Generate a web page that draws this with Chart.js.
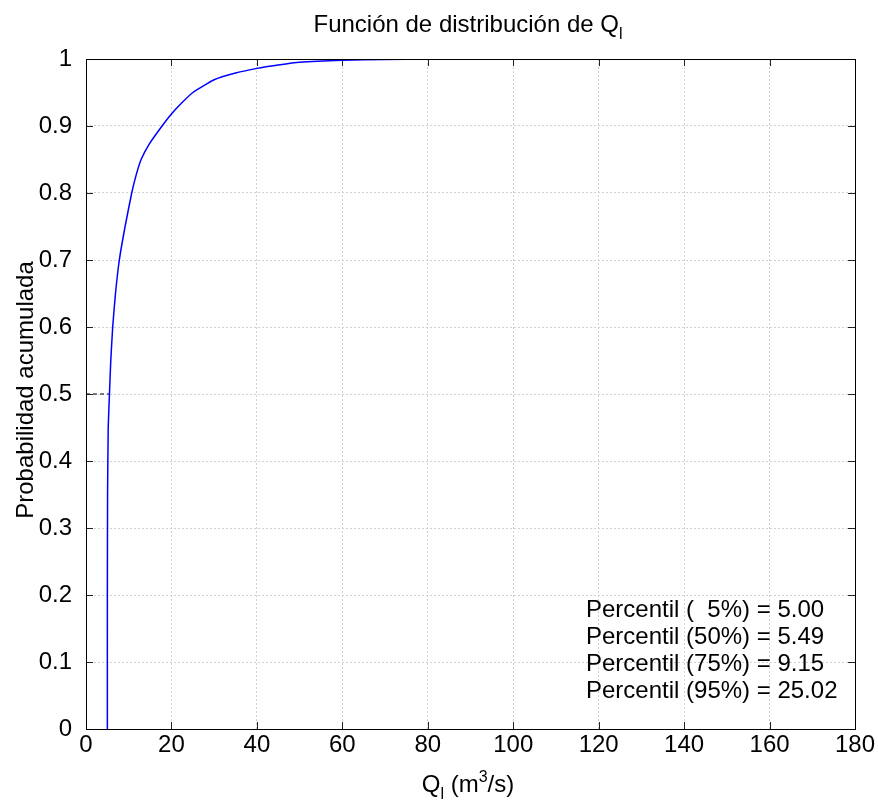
<!DOCTYPE html>
<html>
<head>
<meta charset="utf-8">
<script src="https://cdn.jsdelivr.net/npm/chart.js@4/dist/chart.umd.min.js"></script>
<style>
  body { margin: 0; background: #fff; }
  #wrap { width: 878px; height: 805px; }
</style>
</head>
<body>
<div id="wrap"><canvas id="myChart" width="878" height="805"></canvas></div>
<script>
// caudal Q_l (m3/s) y probabilidad acumulada
var caudal = [5.0, 5.0, 5.05, 5.2, 5.49, 5.8, 6.25, 6.9, 7.8, 9.15, 10.7, 11.7, 12.9, 14.8, 17.8, 20, 22.5, 25.02, 30, 35, 40, 45, 50, 60, 70, 80, 102];
var probAcum = [0.0, 0.2, 0.35, 0.45, 0.5, 0.55, 0.6, 0.65, 0.7, 0.75, 0.8, 0.826, 0.85, 0.873, 0.9, 0.918, 0.935, 0.95, 0.969, 0.979, 0.986, 0.991, 0.995, 0.998, 0.9993, 0.9997, 1.0];

var percentilLabels = ['Percentil (  5%) = 5.00', 'Percentil (50%) = 5.49', 'Percentil (75%) = 9.15', 'Percentil (95%) = 25.02'];
var medianaX = [0, 5.49];
var medianaY = [0.5, 0.5];

var xTicks = [0, 20, 40, 60, 80, 100, 120, 140, 160, 180];
var yTicks = [0, 0.1, 0.2, 0.3, 0.4, 0.5, 0.6, 0.7, 0.8, 0.9, 1];

var FONT = '"Liberation Sans", Arial, sans-serif';

function puntos(xs, ys) {
    var p = [];
    for (var i = 0; i < xs.length; i++) {
        p.push({ x: xs[i], y: ys[i] });
    }
    return p;
}

// escribe trozos [texto, tamaño, desplazamiento vertical] seguidos
function trozos(ctx, partes, x, y, centrado) {
    var total = 0;
    partes.forEach(function(p) {
        ctx.font = p[1] + 'px ' + FONT;
        total += ctx.measureText(p[0]).width;
    });
    var cx = centrado ? x - total / 2 : x;
    ctx.textAlign = 'left';
    partes.forEach(function(p) {
        ctx.font = p[1] + 'px ' + FONT;
        ctx.fillText(p[0], cx, y + p[2]);
        cx += ctx.measureText(p[0]).width;
    });
}

// titulos con subindices + ticks interiores en los 4 lados + cuadro de percentiles
var extras = {
    id: 'extras',
    afterDraw: function(chart) {
        var ctx = chart.ctx;
        var a = chart.chartArea;
        var sx = chart.scales.x, sy = chart.scales.y;
        ctx.save();

        // marcas interiores
        ctx.strokeStyle = '#222';
        ctx.lineWidth = 1;
        ctx.beginPath();
        xTicks.forEach(function(v) {
            var px = Math.round(sx.getPixelForValue(v)) + 0.5;
            ctx.moveTo(px, a.bottom); ctx.lineTo(px, a.bottom - 7);
            ctx.moveTo(px, a.top); ctx.lineTo(px, a.top + 7);
        });
        yTicks.forEach(function(v) {
            var py = Math.round(sy.getPixelForValue(v)) + 0.5;
            ctx.moveTo(a.left, py); ctx.lineTo(a.left + 7, py);
            ctx.moveTo(a.right, py); ctx.lineTo(a.right - 7, py);
        });
        ctx.stroke();

        // marco
        ctx.strokeStyle = '#000';
        ctx.strokeRect(Math.round(a.left) + 0.5, Math.round(a.top) + 0.5,
            Math.round(a.right - a.left), Math.round(a.bottom - a.top));

        ctx.fillStyle = '#000';
        ctx.textBaseline = 'alphabetic';

        // titulo
        trozos(ctx, [['Función de distribución de Q', 24, 0], ['l', 16, 7]], 468, 32, true);

        // etiqueta eje x
        trozos(ctx, [['Q', 24, 0], ['l', 16, 7], [' (m', 24, 0], ['3', 16, -10], ['/s)', 24, 0]], 468, 792, true);

        // etiqueta eje y
        ctx.save();
        ctx.translate(33, 390);
        ctx.rotate(-Math.PI / 2);
        ctx.textAlign = 'center';
        ctx.font = '24px ' + FONT;
        ctx.fillText('Probabilidad acumulada', 0, 0);
        ctx.restore();

        // cuadro de percentiles
        ctx.font = '24px ' + FONT;
        ctx.textAlign = 'left';
        for (var i = 0; i < percentilLabels.length; i++) {
            ctx.fillText(percentilLabels[i], 586, 617 + i * 27);
        }
        ctx.restore();
    }
};

const data = {
    datasets: [{
        label: 'F(Q)',
        data: puntos(caudal, probAcum),
        showLine: true,
        borderColor: 'rgb(0, 0, 255)',
        borderWidth: 1.5,
        pointRadius: 0,
        tension: 0.15,
        order: 1
    }, {
        label: 'mediana',
        data: puntos(medianaX, medianaY),
        showLine: true,
        borderColor: '#000',
        borderWidth: 1,
        borderDash: [4, 3],
        pointRadius: 0,
        order: 2
    }]
};

const config = {
    type: 'scatter',
    data: data,
    options: {
        responsive: false,
        animation: false,
        layout: { padding: { top: 59, right: 23, left: 0, bottom: 0 } },
        plugins: {
            legend: { display: false },
            title: { display: false },
            tooltip: { enabled: false }
        },
        scales: {
            x: {
                type: 'linear',
                min: 0, max: 180,
                afterFit: function(s) { s.height = 76; },
                afterBuildTicks: function(s) { s.ticks = xTicks.map(function(v) { return { value: v }; }); },
                ticks: { color: '#000', padding: 2, maxRotation: 0, font: { family: FONT, size: 24 } },
                grid: { color: '#d0d0d0', drawTicks: false, lineWidth: 1 },
                border: { display: false, dash: [2, 2] }
            },
            y: {
                type: 'linear',
                min: 0, max: 1,
                afterFit: function(s) { s.width = 86; },
                afterBuildTicks: function(s) { s.ticks = yTicks.map(function(v) { return { value: v }; }); },
                ticks: {
                    color: '#000', padding: 14, font: { family: FONT, size: 24 },
                    callback: function(v) { return String(Math.round(v * 10) / 10); }
                },
                grid: { color: '#d0d0d0', drawTicks: false, lineWidth: 1 },
                border: { display: false, dash: [2, 2] }
            }
        }
    },
    plugins: [extras]
};

const myChart = new Chart(document.getElementById('myChart'), config);
</script>
</body>
</html>
